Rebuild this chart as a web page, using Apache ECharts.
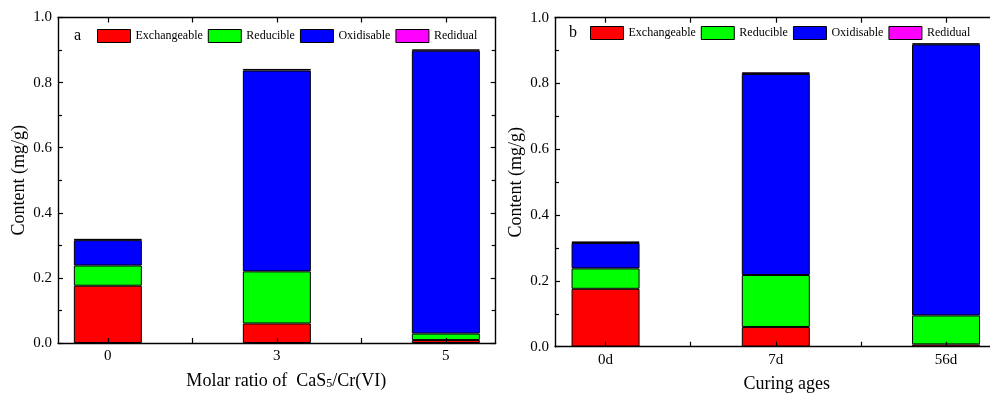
<!DOCTYPE html>
<html>
<head>
<meta charset="utf-8">
<script src="https://cdn.jsdelivr.net/npm/echarts@6/dist/echarts.min.js"></script>
<style>html,body{margin:0;padding:0;background:#fff;}#c{width:990px;height:393px;}</style>
</head>
<body>
<div id="c"></div>
<script>
// ---- data ----
const seriesNames = ['Exchangeable', 'Reducible', 'Oxidisable', 'Redidual'];
const seriesColors = ['#ff0000', '#00ff00', '#0000ff', '#ff00ff'];

const categoriesA = ['0', '3', '5'];
const exchangeableA = [0.176, 0.060, 0.009];
const reducibleA = [0.062, 0.160, 0.020];
const oxidisableA = [0.078, 0.617, 0.869];
const residualA = [0.004, 0.005, 0.004];

const categoriesB = ['0d', '7d', '56d'];
const exchangeableB = [0.176, 0.060, 0.007];
const reducibleB = [0.062, 0.158, 0.088];
const oxidisableB = [0.077, 0.611, 0.824];
const residualB = [0.005, 0.005, 0.003];

const yTicks = [0, 0.2, 0.4, 0.6, 0.8, 1.0];

// ---- layout ----
const FONT = '"Liberation Serif", "Times New Roman", serif';
const A = {left: 58, top: 17.5, right: 495.7, bottom: 343, min: -0.295, max: 2.295};
const B = {left: 555, top: 17.7, right: 996.6, bottom: 346.7, min: -0.297, max: 2.297};

function barGrid(p) {
  const unit = (p.right - p.left) / (p.max - p.min);
  return {left: p.left + (-0.5 - p.min) * unit, width: 3 * unit, top: p.top, height: p.bottom - p.top, outerBoundsMode: 'none', containLabel: false};
}
function frameGrid(p) {
  return {left: p.left, width: p.right - p.left, top: p.top, height: p.bottom - p.top, outerBoundsMode: 'none', containLabel: false};
}

const lineStyle = {color: '#000', width: 1.4};

function frameX(gridIndex, p, cats, pos, name, namePad) {
  return {
    type: 'value', gridIndex, position: pos, min: p.min, max: p.max, z: 10,
    axisLine: {show: true, onZero: false, lineStyle},
    axisTick: {show: true, inside: true, length: 5, lineStyle: {color: '#000', width: 1.2}, customValues: [0, 0.5, 1, 1.5, 2]},
    axisLabel: pos === 'bottom' ? {show: true, customValues: [0, 1, 2], formatter: v => cats[Math.round(v)], color: '#000', fontSize: 15, fontFamily: FONT, margin: 6} : {show: false},
    splitLine: {show: false},
    name: pos === 'bottom' ? name : '',
    nameLocation: 'middle', nameGap: 29,
    nameTextStyle: {color: '#000', fontSize: 18, fontFamily: FONT, padding: namePad,
      rich: {sub: {fontSize: 12, fontFamily: FONT, color: '#000', verticalAlign: 'bottom', padding: [5, 0, 0, 0]}}}
  };
}
function frameY(gridIndex, pos, showLabel) {
  return {
    type: 'value', gridIndex, position: pos, min: 0, max: 1, interval: 0.2, z: 10,
    axisLine: {show: true, onZero: false, lineStyle},
    axisTick: {show: true, inside: true, length: 5, lineStyle: {color: '#000', width: 1.2}},
    minorTick: {show: true, splitNumber: 2, length: 4, lineStyle: {color: '#000', width: 1.2}},
    axisLabel: showLabel ? {show: true, color: '#000', fontSize: 15, fontFamily: FONT, margin: 6, formatter: v => v.toFixed(1)} : {show: false},
    splitLine: {show: false},
    name: showLabel ? 'Content (mg/g)' : '',
    nameLocation: 'middle', nameGap: 30,
    nameTextStyle: {color: '#000', fontSize: 18, fontFamily: FONT}
  };
}
function hiddenCat(gridIndex, cats) {
  return {type: 'category', gridIndex, data: cats, boundaryGap: true, show: false};
}
function hiddenY(gridIndex) {
  return {type: 'value', gridIndex, min: 0, max: 1, show: false};
}

const dataA = [exchangeableA, reducibleA, oxidisableA, residualA];
const dataB = [exchangeableB, reducibleB, oxidisableB, residualB];
const series = [];
[[dataA, 0, 'a'], [dataB, 3, 'b']].forEach(([d, axisIdx, stack]) => {
  d.forEach((vals, i) => {
    series.push({
      type: 'bar', name: seriesNames[i], stack, xAxisIndex: axisIdx, yAxisIndex: axisIdx,
      data: vals, barWidth: 68,
      itemStyle: {color: seriesColors[i], borderColor: '#000', borderWidth: 1},
      emphasis: {disabled: true}
    });
  });
});

function legend(left, top) {
  return {
    left, top, orient: 'horizontal', data: seriesNames, icon: 'rect', padding: 0,
    itemWidth: 33, itemHeight: 13, itemGap: 5,
    textStyle: {color: '#000', fontSize: 12, fontFamily: FONT},
    itemStyle: {borderColor: '#000', borderWidth: 1},
    selectedMode: false
  };
}

const option = {
  backgroundColor: '#fff',
  animation: false,
  grid: [barGrid(A), frameGrid(A), barGrid(B), frameGrid(B)],
  xAxis: [
    hiddenCat(0, categoriesA),
    frameX(1, A, categoriesA, 'bottom', 'Molar ratio of  CaS{sub|5}/Cr(VI)', [0, 0, 0, 19]),
    frameX(1, A, categoriesA, 'top', '', 0),
    hiddenCat(2, categoriesB),
    frameX(3, B, categoriesB, 'bottom', 'Curing ages', [0, 0, 0, 22]),
    frameX(3, B, categoriesB, 'top', '', 0)
  ],
  yAxis: [
    hiddenY(0),
    frameY(1, 'left', true),
    frameY(1, 'right', false),
    hiddenY(2),
    frameY(3, 'left', true),
    frameY(3, 'right', false)
  ],
  legend: [legend(97, 29), legend(590, 26)],
  graphic: [
    {type: 'text', left: 74, top: 28, style: {text: 'a', font: '16px ' + FONT, fill: '#000'}},
    {type: 'text', left: 569, top: 25, style: {text: 'b', font: '16px ' + FONT, fill: '#000'}}
  ],
  series
};

const chart = echarts.init(document.getElementById('c'), null, {renderer: 'canvas'});
chart.setOption(option);
</script>
</body>
</html>
